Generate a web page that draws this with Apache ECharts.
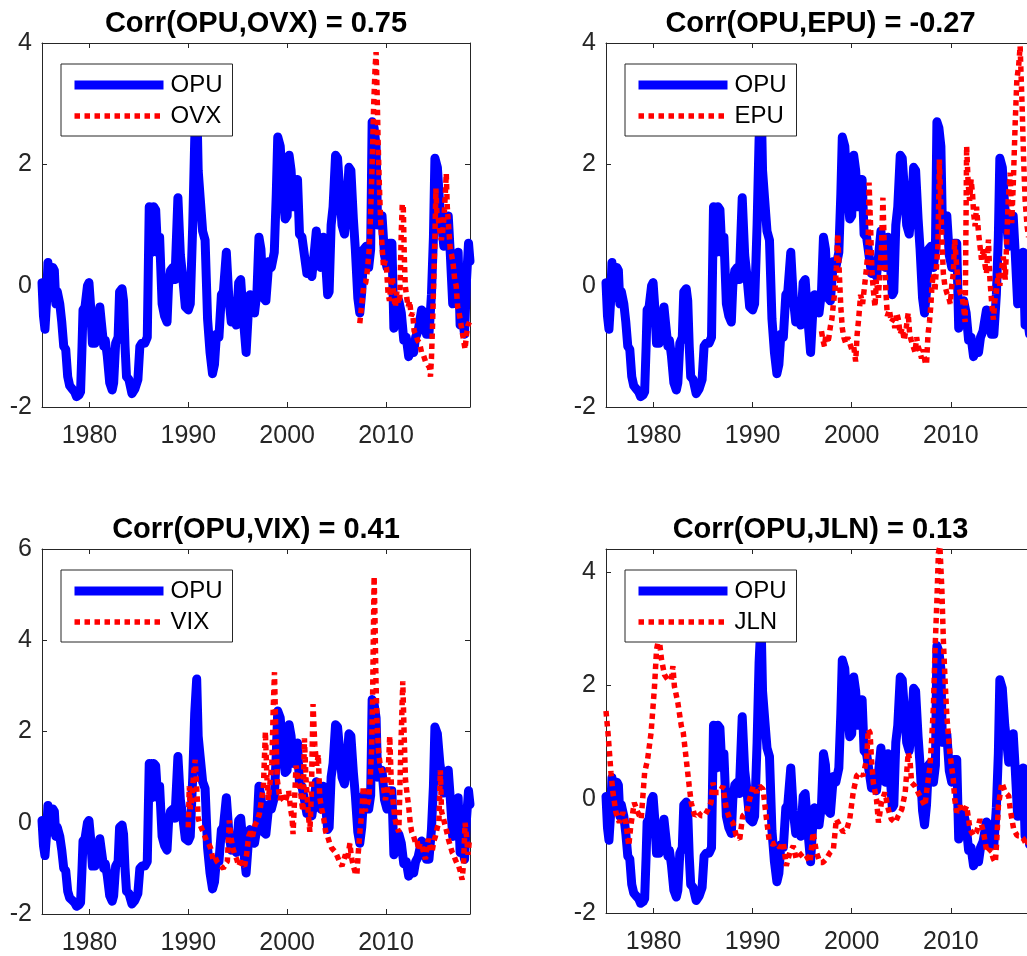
<!DOCTYPE html>
<html>
<head>
<meta charset="utf-8">
<script src="https://cdn.jsdelivr.net/npm/echarts/dist/echarts.min.js"></script>
<style>
  html, body { margin: 0; padding: 0; background: #fff; overflow: hidden; }
  #chart { width: 1040px; height: 956px; }
</style>
</head>
<body>
<div id="chart"></div>
<script>
// OPU, shared by all four panels
const opuYears = [1975.2, 1975.35, 1975.5, 1975.65, 1975.8, 1975.95, 1976.1, 1976.3, 1976.45, 1976.6, 1976.75, 1977.0, 1977.2, 1977.4, 1977.6, 1977.8, 1978.0, 1978.25, 1978.5, 1978.7, 1978.95, 1979.1, 1979.25, 1979.35, 1979.55, 1979.8, 1979.95,
  1980.1, 1980.3, 1980.55, 1980.8, 1981.05, 1981.2, 1981.45, 1981.6, 1981.8, 1982.05, 1982.3, 1982.45, 1982.65, 1982.9, 1983.05, 1983.3, 1983.45, 1983.6, 1983.75, 1984.0, 1984.3, 1984.6, 1984.9, 1985.1, 1985.3, 1985.6, 1985.85,
  1986.05, 1986.3, 1986.5, 1986.7, 1986.9, 1987.1, 1987.35, 1987.6, 1987.85, 1988.0, 1988.2, 1988.45, 1988.65, 1988.95, 1989.2, 1989.4, 1989.7, 1990.0, 1990.2, 1990.45, 1990.65, 1990.85, 1991.0, 1991.2, 1991.45, 1991.7, 1991.95,
  1992.2, 1992.45, 1992.65, 1992.85, 1993.1, 1993.35, 1993.55, 1993.85, 1994.1, 1994.35, 1994.6, 1994.85, 1995.1, 1995.3, 1995.55, 1995.85, 1996.05, 1996.25, 1996.5, 1996.7, 1996.95, 1997.15, 1997.35, 1997.6, 1997.85,
  1998.15, 1998.4, 1998.7, 1998.9, 1999.05, 1999.3, 1999.55, 1999.8, 2000.0, 2000.2, 2000.4, 2000.6, 2000.85, 2001.05, 2001.25, 2001.5, 2001.75, 2002.0, 2002.25, 2002.5, 2002.75, 2002.95, 2003.2, 2003.4, 2003.65, 2003.85,
  2004.1, 2004.25, 2004.45, 2004.65, 2004.9, 2005.1, 2005.35, 2005.55, 2005.8, 2006.0, 2006.25, 2006.45, 2006.7, 2006.9, 2007.15, 2007.35, 2007.55, 2007.75, 2008.0, 2008.25, 2008.45, 2008.6, 2008.8, 2009.0, 2009.15, 2009.4,
  2009.6, 2009.85, 2010.1, 2010.35, 2010.6, 2010.8, 2011.05, 2011.3, 2011.55, 2011.8, 2012.05, 2012.3, 2012.55, 2012.8, 2013.0, 2013.25, 2013.6, 2013.85, 2014.1, 2014.35, 2014.6, 2014.8, 2014.95, 2015.2, 2015.45, 2015.65,
  2015.85, 2016.05, 2016.3, 2016.5, 2016.75, 2016.95, 2017.15, 2017.3, 2017.5, 2017.75, 2017.95, 2018.15, 2018.35, 2018.5];
const opuValues = [0.05, -0.5, -0.72, -0.3, 0.38, 0.1, -0.2, 0.3, 0.25, -0.3, -0.1, -0.3, -0.6, -1.0, -1.05, -1.5, -1.65, -1.7, -1.75, -1.83, -1.8, -1.75, -1.0, -0.4, -0.35, 0.0, 0.05,
  -0.3, -0.95, -0.95, -0.6, -0.35, -0.6, -1.0, -0.9, -1.15, -1.6, -1.72, -1.6, -0.95, -0.85, -0.1, -0.05, -0.25, -1.0, -1.5, -1.55, -1.78, -1.7, -1.55, -1.0, -0.95, -0.95, -0.85,
  1.3, 0.55, 1.3, 1.25, 0.55, 0.8, -0.3, -0.5, -0.6, 0.0, 0.25, 0.3, 0.1, 1.45, 0.5, 0.2, -0.35, -0.4, -0.3, 1.0, 2.4, 3.15, 1.9, 1.45, 0.9, 0.75, -0.55,
  -1.1, -1.45, -1.3, -0.8, -0.85, -0.15, -0.1, 0.55, -0.2, -0.6, -0.3, -0.65, 0.05, 0.1, -0.5, -1.1, -0.5, -0.15, -0.3, -0.45, -0.1, 0.8, 0.6, -0.2, -0.25,
  0.4, 0.3, 0.55, 1.5, 2.45, 2.3, 1.6, 1.1, 1.15, 2.15, 1.9, 1.3, 1.7, 1.75, 0.85, 0.8, 0.5, 0.2, 0.25, 0.15, 0.55, 0.9, 0.45, 0.3, 0.8, 0.5,
  -0.15, -0.1, 1.0, 1.3, 2.15, 2.1, 1.5, 1.0, 0.85, 1.2, 1.95, 1.9, 1.1, 0.6, -0.2, -0.45, -0.1, 0.6, 0.65, 0.3, 0.6, 2.7, 2.6, 2.3, 1.0, 1.05,
  1.15, 0.5, 0.3, 0.7, 0.7, -0.7, -0.55, -0.25, -0.45, -0.9, -0.85, -1.17, -1.05, -1.1, -0.85, -0.75, -0.4, -0.45, -0.8, -0.8, -0.15, 0.8, 2.1, 1.95, 1.3, 1.0,
  0.65, 0.7, 1.15, 0.55, -0.3, 0.3, 0.25, 0.55, -0.65, -0.55, -0.8, 0.1, 0.7, 0.4];

const ovxYears = [2007.35, 2007.55, 2007.75, 2007.95, 2008.15, 2008.3, 2008.45, 2008.6, 2008.75, 2008.9, 2009.0, 2009.1, 2009.2, 2009.3, 2009.45, 2009.6, 2009.75, 2009.9, 2010.05, 2010.2, 2010.35, 2010.5, 2010.65, 2010.8, 2010.95,
  2011.1, 2011.25, 2011.4, 2011.55, 2011.65, 2011.75, 2011.85, 2011.95, 2012.1, 2012.25, 2012.4, 2012.55, 2012.7, 2012.85, 2013.0, 2013.2, 2013.4, 2013.6, 2013.8, 2014.0, 2014.2, 2014.4, 2014.5, 2014.6, 2014.72,
  2014.85, 2014.95, 2015.05, 2015.15, 2015.3, 2015.45, 2015.6, 2015.75, 2015.9, 2016.0, 2016.1, 2016.2, 2016.35, 2016.5, 2016.65, 2016.8, 2016.95, 2017.1, 2017.25, 2017.4, 2017.55, 2017.7, 2017.85, 2018.0, 2018.15, 2018.3, 2018.45];
const ovxValues = [-0.62, -0.3, 0.0, 0.05, 0.3, 0.6, 1.2, 2.0, 2.95, 3.6, 3.85, 3.2, 2.4, 1.8, 1.1, 0.65, 0.3, 0.4, 0.3, -0.1, -0.25, 0.0, 0.15, -0.2, -0.35,
  -0.1, -0.3, -0.2, 0.9, 1.35, 1.3, 0.5, 0.0, -0.2, -0.35, -0.25, -0.5, -0.45, -0.75, -0.8, -0.9, -0.95, -1.1, -1.15, -1.25, -1.3, -1.35, -1.5, -1.2, -0.6,
  0.2, 0.8, 1.6, 1.2, 1.1, 0.9, 0.75, 0.9, 1.2, 1.5, 1.85, 1.3, 0.95, 0.6, 0.5, 0.35, 0.1, 0.0, -0.35, -0.45, -0.6, -0.75, -0.9, -1.05, -0.8, -0.65, -0.6];

const epuYears = [1996.95, 1997.1, 1997.25, 1997.4, 1997.55, 1997.7, 1997.85, 1998.0, 1998.15, 1998.3, 1998.45, 1998.6, 1998.75, 1998.9, 1999.05, 1999.2, 1999.4, 1999.6, 1999.8, 2000.0, 2000.2, 2000.4, 2000.55, 2000.7, 2000.9,
  2001.1, 2001.3, 2001.5, 2001.65, 2001.75, 2001.9, 2002.05, 2002.2, 2002.35, 2002.5, 2002.7, 2002.85, 2003.0, 2003.15, 2003.3, 2003.45, 2003.6, 2003.8, 2004.0, 2004.2, 2004.35, 2004.55, 2004.7, 2004.9,
  2005.1, 2005.3, 2005.5, 2005.7, 2005.85, 2006.0, 2006.2, 2006.4, 2006.55, 2006.7, 2006.9, 2007.05, 2007.2, 2007.4, 2007.55, 2007.7, 2007.85, 2008.0, 2008.1, 2008.25, 2008.4, 2008.55, 2008.7, 2008.85,
  2009.0, 2009.1, 2009.25, 2009.4, 2009.6, 2009.8, 2009.95, 2010.1, 2010.25, 2010.4, 2010.6, 2010.8, 2010.95, 2011.15, 2011.3, 2011.45, 2011.6, 2011.75, 2011.9, 2012.05, 2012.2, 2012.3, 2012.45, 2012.6, 2012.8,
  2012.95, 2013.1, 2013.3, 2013.45, 2013.6, 2013.8, 2013.95, 2014.1, 2014.3, 2014.45, 2014.6, 2014.8, 2014.95, 2015.15, 2015.3, 2015.5, 2015.65, 2015.8, 2016.0, 2016.15, 2016.3, 2016.5, 2016.67, 2016.85,
  2017.0, 2017.2, 2017.35, 2017.5, 2017.7, 2017.85];
const epuValues = [-0.75, -0.9, -1.0, -0.8, -0.95, -0.85, -0.67, -0.55, -0.3, -0.1, 0.3, 0.85, 0.2, -0.35, -0.7, -0.85, -0.95, -0.85, -0.95, -1.05, -1.0, -1.25, -0.8, -0.55, -0.15,
  -0.3, 0.0, 0.3, 0.6, 1.7, 1.0, 0.2, -0.1, -0.35, 0.1, -0.2, 0.3, 0.6, 1.45, 0.55, -0.1, -0.5, -0.4, -0.6, -0.55, -0.7, -0.45, -0.55, -0.8,
  -0.7, -0.9, -0.7, -0.45, -0.8, -0.9, -1.0, -1.1, -0.85, -1.0, -1.1, -1.2, -1.05, -1.25, -1.3, -0.8, -0.6, -0.3, 0.0, 0.2, -0.1, 0.3, 0.65, 2.08,
  1.3, 0.76, 0.2, 0.0, -0.12, -0.2, -0.3, 0.0, 0.2, 0.76, 0.3, 0.0, -0.12, -0.2, -0.35, -0.6, 2.3, 1.7, 1.4, 1.75, 1.5, 1.2, 0.98, 1.3, 0.87,
  0.65, 0.43, 0.6, 0.35, 0.2, 0.76, 0.1, -0.23, -0.56, -0.25, -0.1, 0.2, 0.0, 0.3, 0.48, 0.1, 0.76, 1.42, 1.86, 1.03, 1.64, 2.68, 3.4, 3.62,
  3.95, 2.96, 2.08, 1.42, 0.98, 0.8];

const vixYears = [1990.0, 1990.1, 1990.2, 1990.35, 1990.55, 1990.7, 1990.85, 1991.0, 1991.2, 1991.4, 1991.6, 1991.85, 1992.05, 1992.25, 1992.5, 1992.7, 1992.9, 1993.1, 1993.3, 1993.55, 1993.75, 1993.95, 1994.15, 1994.3, 1994.5,
  1994.7, 1994.9, 1995.1, 1995.3, 1995.5, 1995.7, 1995.9, 1996.1, 1996.3, 1996.5, 1996.75, 1997.0, 1997.2, 1997.4, 1997.6, 1997.8, 1997.95, 1998.1, 1998.3, 1998.45, 1998.6, 1998.72, 1998.85, 1999.0, 1999.15,
  1999.3, 1999.45, 1999.6, 1999.8, 2000.0, 2000.15, 2000.35, 2000.5, 2000.6, 2000.75, 2000.9, 2001.1, 2001.3, 2001.5, 2001.6, 2001.75, 2001.9, 2002.1, 2002.3, 2002.45, 2002.62, 2002.8, 2003.0, 2003.15, 2003.3,
  2003.5, 2003.7, 2003.9, 2004.1, 2004.3, 2004.5, 2004.7, 2004.9, 2005.1, 2005.3, 2005.55, 2005.75, 2005.9, 2006.1, 2006.35, 2006.5, 2006.7, 2006.9, 2007.05, 2007.2, 2007.4, 2007.55, 2007.7, 2007.9, 2008.1,
  2008.25, 2008.4, 2008.55, 2008.65, 2008.73, 2008.8, 2008.88, 2008.97, 2009.08, 2009.25, 2009.45, 2009.6, 2009.8, 2009.95, 2010.15, 2010.38, 2010.55, 2010.75, 2010.9, 2011.1, 2011.3, 2011.5, 2011.7, 2011.83,
  2011.97, 2012.15, 2012.3, 2012.45, 2012.6, 2012.8, 2013.0, 2013.15, 2013.3, 2013.45, 2013.6, 2013.8, 2014.0, 2014.15, 2014.3, 2014.5, 2014.65, 2014.85, 2015.0, 2015.2, 2015.35, 2015.5, 2015.62, 2015.8,
  2016.0, 2016.15, 2016.3, 2016.5, 2016.7, 2016.85, 2017.0, 2017.2, 2017.35, 2017.5, 2017.7, 2017.85, 2018.0, 2018.15, 2018.3, 2018.45];
const vixValues = [-0.1, 0.8, 0.3, 0.5, 1.1, 1.38, 0.8, 0.1, -0.05, -0.15, -0.25, -0.4, -0.45, -0.55, -0.8, -0.75, -0.85, -0.9, -0.95, -1.0, -0.9, -0.85, 0.05, -0.3, -0.55,
  -0.7, -0.8, -0.95, -0.85, -0.9, -0.95, -0.7, -0.3, -0.2, -0.3, -0.05, 0.05, 0.2, 0.5, 0.8, 2.0, 1.0, 0.5, 0.95, 1.3, 2.55, 3.3, 2.0, 0.95, 0.7,
  0.5, 0.65, 0.5, 0.45, 0.6, 0.7, 0.3, 0.1, -0.25, 0.5, 1.25, 1.0, 0.8, 0.4, 0.25, 1.85, 1.0, 0.3, -0.2, 0.6, 2.6, 1.7, 1.25, 1.5, 0.55,
  0.3, 0.1, -0.2, -0.3, -0.45, -0.55, -0.6, -0.65, -0.75, -0.85, -0.95, -0.8, -0.7, -0.8, -0.45, -0.75, -0.95, -1.1, -1.15, -0.65, -0.1, 0.2, 0.8, 0.25, 0.4,
  0.5, 0.95, 1.6, 2.8, 4.2, 5.4, 4.6, 3.3, 2.3, 1.55, 1.2, 1.1, 0.7, 0.5, 0.75, 1.9, 0.8, 0.4, 0.1, -0.1, -0.2, 1.6, 3.1, 2.0,
  0.95, 0.6, 0.35, 0.0, -0.2, -0.3, -0.45, -0.4, -0.6, -0.45, -0.5, -0.65, -0.8, -0.5, -0.35, -0.55, -0.65, -0.4, -0.3, -0.1, 0.0, 1.15, 0.25, 0.1,
  0.1, -0.2, -0.35, -0.5, -0.65, -0.7, -0.8, -0.9, -0.95, -1.05, -1.25, -0.9, 0.0, -0.3, -0.7, -0.35];

const jlnYears = [1975.2, 1975.4, 1975.55, 1975.7, 1975.9, 1976.2, 1976.55, 1976.9, 1977.2, 1977.5, 1977.7, 1978.05, 1978.4, 1978.75, 1979.1, 1979.4, 1979.75, 1980.1, 1980.3, 1980.55, 1980.8, 1981.1, 1981.45, 1981.8, 1981.95,
  1982.1, 1982.45, 1982.8, 1983.0, 1983.3, 1983.6, 1983.8, 1984.15, 1984.5, 1984.8, 1985.15, 1985.5, 1985.8, 1986.0, 1986.25, 1986.65, 1987.0, 1987.35, 1987.7, 1988.0, 1988.35, 1988.7, 1989.0, 1989.4, 1989.7,
  1990.05, 1990.4, 1990.7, 1991.05, 1991.4, 1991.7, 1992.05, 1992.4, 1992.75, 1993.1, 1993.4, 1993.75, 1994.1, 1994.4, 1994.75, 1995.1, 1995.4, 1995.8, 1996.1, 1996.45, 1996.8, 1997.1, 1997.45, 1997.8, 1998.15,
  1998.45, 1998.8, 1999.15, 1999.5, 1999.8, 2000.15, 2000.5, 2000.83, 2001.15, 2001.5, 2001.67, 2001.85, 2002.0, 2002.18, 2002.5, 2002.7, 2003.0, 2003.35, 2003.7, 2004.0, 2004.4, 2004.7, 2005.05, 2005.4, 2005.55,
  2005.7, 2005.9, 2006.05, 2006.4, 2006.7, 2007.05, 2007.4, 2007.55, 2007.9, 2008.07, 2008.25, 2008.4, 2008.6, 2008.75, 2008.9, 2009.1, 2009.25, 2009.42, 2009.6, 2009.9, 2010.25, 2010.4, 2010.6, 2010.95, 2011.3,
  2011.6, 2011.95, 2012.3, 2012.6, 2012.95, 2013.3, 2013.65, 2014.0, 2014.3, 2014.5, 2014.65, 2014.8, 2015.15, 2015.5, 2015.85, 2016.0, 2016.35, 2016.7, 2017.0, 2017.35, 2017.7, 2017.9];
const jlnValues = [1.55, 1.17, 0.82, 0.47, 0.12, -0.23, -0.41, -0.23, -0.41, -0.82, -0.47, -0.06, -0.23, -0.35, 0.47, 0.7, 1.17, 1.99, 2.63, 2.85, 2.46, 2.19, 2.1, 2.1, 2.34,
  1.99, 1.7, 1.29, 1.17, 0.7, 0.23, -0.06, -0.29, -0.23, -0.29, -0.29, -0.18, -0.06, 0.29, 0.12, 0.12, 0.23, -0.18, -0.35, -0.41, -0.64, -0.7, -0.29, -0.23, 0.0,
  0.23, 0.12, 0.23, 0.18, -0.35, -0.76, -0.79, -0.76, -0.85, -0.76, -1.17, -0.94, -0.82, -1.05, -0.99, -0.94, -0.99, -1.11, -0.58, -0.94, -1.11, -1.11, -1.05, -0.94, -0.88,
  -0.35, -0.47, -0.58, -0.53, -0.35, 0.12, 0.41, 0.47, 0.41, 0.7, 1.23, 1.17, 0.7, 0.29, 0.0, -0.41, -0.06, 0.12, -0.18, -0.35, -0.41, -0.29, -0.18, 0.12, 0.47,
  0.82, 0.64, 0.29, 0.23, 0.12, 0.0, -0.12, 0.12, 0.58, 1.05, 1.64, 2.57, 3.5, 4.33, 4.45, 3.68, 2.8, 2.1, 1.46, 0.82, 0.35, 0.0, -0.23, -0.12, -0.23,
  -0.12, -0.53, -0.64, -0.58, -0.35, -0.58, -0.94, -0.88, -1.05, -1.11, -0.7, -0.12, 0.29, 0.12, 0.06, -0.18, -0.53, -0.64, -0.64, -0.7, -0.82, -0.75];

const otherNames = ['OVX', 'EPU', 'VIX', 'JLN'];
const otherYears = [ovxYears, epuYears, vixYears, jlnYears];
const otherValues = [ovxValues, epuValues, vixValues, jlnValues];
const titles = ['Corr(OPU,OVX) = 0.75', 'Corr(OPU,EPU) = -0.27', 'Corr(OPU,VIX) = 0.41', 'Corr(OPU,JLN) = 0.13'];
const yMin = [-2, -2, -2, -2];
const yMax = [4, 4, 6, 4.4];

const FONT = '"Liberation Sans", Arial, Helvetica, sans-serif';
const AX = '#262626';
const grids = [
  { left: 42, top: 43, width: 428, height: 364 },
  { left: 606, top: 43, width: 429, height: 364 },
  { left: 42, top: 549, width: 428, height: 365 },
  { left: 606, top: 549, width: 429, height: 364 }
];

function pairs(xs, ys) {
  return xs.map((x, k) => [x, ys[k]]);
}

function axisBase(pos, gi, showLabel, margin) {
  return {
    type: 'value', gridIndex: gi, position: pos,
    axisLine: { show: true, onZero: false, lineStyle: { color: AX, width: 1 } },
    axisTick: { show: true, inside: true, length: 5, lineStyle: { color: AX, width: 1 } },
    axisLabel: {
      show: showLabel, margin: margin, fontSize: 25, color: AX, fontFamily: FONT,
      showMinLabel: false, showMaxLabel: false,
      formatter: v => String(v)
    },
    splitLine: { show: false }
  };
}

const option = { animation: false, title: [], grid: [], xAxis: [], yAxis: [], legend: [], series: [] };

grids.forEach((g, i) => {
  option.grid.push(g);
  option.title.push({
    text: titles[i], left: g.left + g.width / 2, top: g.top - 33.5, textAlign: 'center', padding: 0,
    textStyle: { fontSize: 29, fontWeight: 'bold', color: '#000', fontFamily: FONT }
  });

  ['bottom', 'top'].forEach(p => {
    const ax = axisBase(p, i, p === 'bottom', 17);
    ax.min = 1975.2;
    ax.max = 2018.5;
    option.xAxis.push(ax);
  });
  ['left', 'right'].forEach(p => {
    const ax = axisBase(p, i, p === 'left', 10);
    ax.min = yMin[i];
    ax.max = yMax[i];
    ax.interval = 2;
    ax.axisLabel.showMinLabel = true;
    ax.axisLabel.showMaxLabel = yMax[i] % 2 === 0;
    option.yAxis.push(ax);
  });

  option.legend.push({
    orient: 'vertical', left: g.left + 19, top: g.top + 21,
    padding: [9, 10, 8, 9], itemGap: 7, itemWidth: 89, itemHeight: 14,
    backgroundColor: '#fff', borderColor: AX, borderWidth: 1, borderRadius: 0,
    selectedMode: false,
    textStyle: { fontSize: 24, color: '#000', fontFamily: FONT, padding: [0, 0, 0, 2] },
    itemStyle: { opacity: 0 },
    data: [
      { name: 'OPU', lineStyle: { width: 9, color: '#0000ff', type: 'solid', cap: 'butt' } },
      { name: otherNames[i], lineStyle: { width: 5.5, color: '#ff0000', type: [5.5, 4.5], cap: 'butt' } }
    ]
  });

  option.series.push({
    type: 'line', name: 'OPU', xAxisIndex: 2 * i, yAxisIndex: 2 * i,
    data: pairs(opuYears, opuValues),
    symbol: 'none', showSymbol: false, silent: true, z: 2,
    itemStyle: { color: '#0000ff' },
    lineStyle: { color: '#0000ff', width: 9, cap: 'round', join: 'round' }
  });
  option.series.push({
    type: 'line', name: otherNames[i], xAxisIndex: 2 * i, yAxisIndex: 2 * i,
    data: pairs(otherYears[i], otherValues[i]),
    symbol: 'none', showSymbol: false, silent: true, z: 3,
    itemStyle: { color: '#ff0000' },
    lineStyle: { color: '#ff0000', width: 5.5, type: [5.5, 4.5], cap: 'butt', join: 'bevel' }
  });
});

const myChart = echarts.init(document.getElementById('chart'), null, { renderer: 'canvas' });
myChart.setOption(option);
</script>
</body>
</html>
